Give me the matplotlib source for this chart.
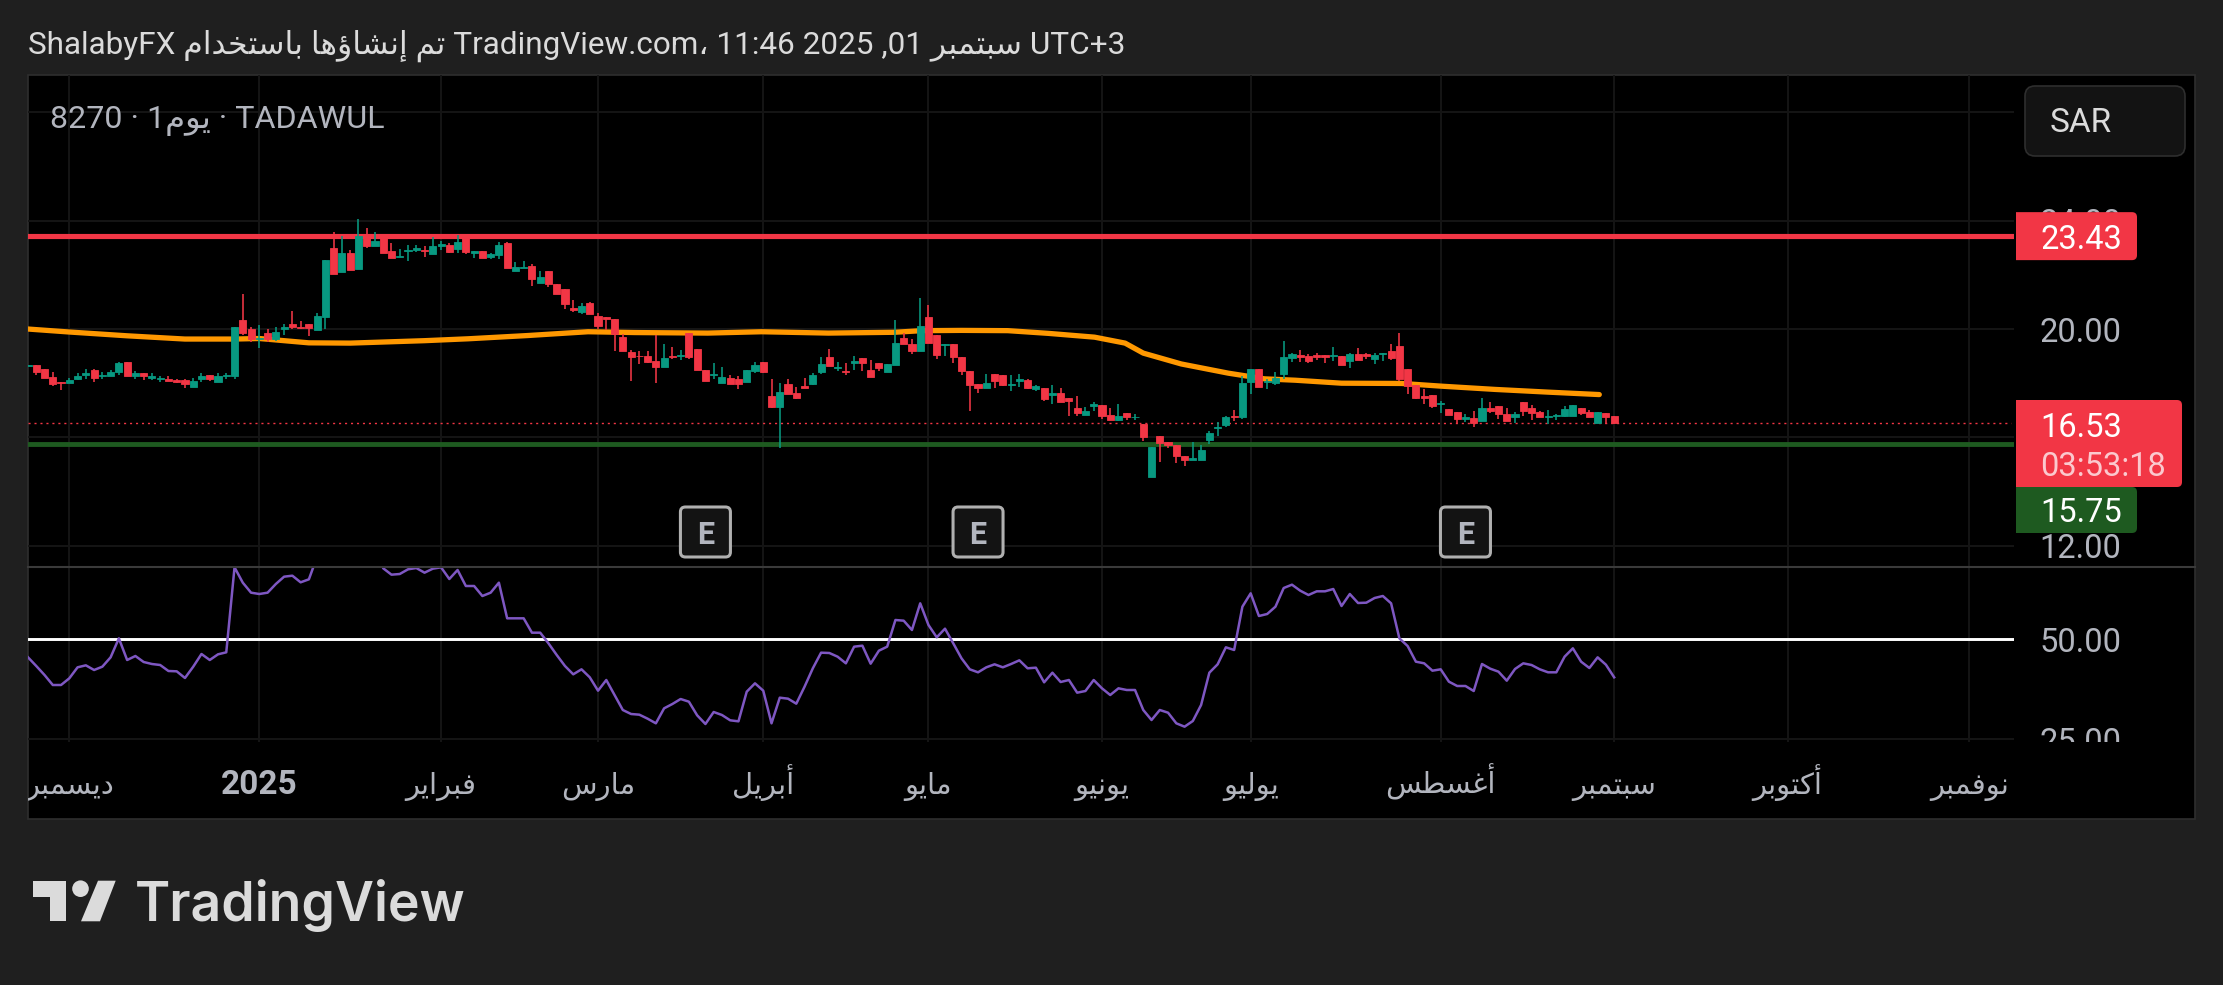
import numpy as np
import matplotlib
matplotlib.use("Agg")
import matplotlib.pyplot as plt
from matplotlib.patches import Rectangle, FancyBboxPatch, Polygon, Circle, PathPatch
from matplotlib.path import Path
from matplotlib.transforms import Affine2D

plt.rcParams['font.family'] = ['Roboto', 'DejaVu Sans']

# ---------- data ----------
opens = [18.64,18.66,18.54,18.22,18.06,18.01,18.17,18.31,18.47,18.25,
18.25,18.43,18.77,18.27,18.36,18.21,18.16,18.15,18.11,18.11,
17.87,18.17,18.29,18.05,18.25,18.27,20.32,19.99,19.64,19.87,
19.65,19.99,20.18,20.08,20.17,19.97,20.45,22.99,22.12,22.81,
22.23,23.47,23.08,23.35,22.87,22.66,22.88,22.92,22.93,22.77,
23.06,23.10,22.94,23.41,22.79,22.88,22.65,22.74,23.17,22.15,
22.25,22.33,21.70,22.14,21.68,21.46,20.79,20.64,20.95,20.47,
20.43,20.37,19.70,19.17,19.02,19.00,18.82,18.61,19.02,18.99,
19.87,19.25,18.48,18.31,18.01,18.19,18.14,18.04,18.45,18.77,
17.52,17.12,17.97,17.63,17.89,17.97,18.41,18.95,18.56,18.46,
18.74,18.94,18.50,18.76,18.40,18.69,19.66,19.45,19.20,20.46,
19.79,19.41,19.45,18.98,18.46,17.97,17.84,18.34,18.30,17.93,
18.09,18.13,17.77,17.84,17.57,17.64,17.45,17.09,16.83,17.17,
17.20,16.83,16.63,16.90,16.74,16.51,14.54,16.06,15.84,15.73,
15.32,15.15,15.15,15.91,16.35,16.45,16.80,16.77,18.04,18.54,
18.04,18.01,18.34,18.94,19.03,18.99,19.03,19.03,18.99,19.01,
18.82,19.08,19.06,18.91,19.06,19.18,19.39,18.54,17.93,17.51,
17.55,17.24,17.04,16.94,16.69,16.70,16.61,17.10,17.15,16.87,
16.77,17.29,17.07,16.92,16.75,16.80,16.79,16.80,17.09,16.92,
16.54,16.91,16.79]
closes = [18.69,18.42,18.20,17.97,17.99,18.11,18.27,18.36,18.20,18.29,
18.43,18.73,18.27,18.36,18.26,18.26,18.21,18.08,18.06,17.97,
18.08,18.27,18.14,18.26,18.29,20.07,19.84,19.62,19.68,19.62,
19.89,20.06,20.06,20.03,20.05,20.48,22.55,22.02,22.81,22.18,
23.45,23.08,23.26,22.82,22.62,22.69,22.92,22.99,22.89,23.06,
23.14,22.83,23.21,22.83,22.88,22.63,22.76,23.09,22.25,22.28,
22.30,21.86,21.92,21.66,21.30,20.92,20.70,20.85,20.56,20.11,
20.37,19.81,19.20,18.96,18.99,18.78,18.61,18.93,18.98,19.05,
18.96,18.50,18.08,18.35,18.22,17.98,17.98,18.48,18.68,18.41,
17.12,17.67,17.61,17.45,17.83,18.30,18.70,18.65,18.61,18.41,
18.81,18.76,18.24,18.57,18.72,19.50,19.43,19.20,20.12,19.47,
19.05,19.45,18.98,18.44,17.94,17.83,18.00,18.07,17.94,17.97,
18.14,17.83,17.88,17.41,17.62,17.29,17.33,16.90,16.97,17.22,
16.80,16.63,16.79,16.74,16.77,16.02,15.65,15.80,15.70,15.30,
15.15,15.22,15.54,16.17,16.39,16.76,16.76,18.00,18.52,17.87,
18.07,18.21,18.96,19.06,18.97,18.81,18.98,18.97,19.04,18.67,
19.08,18.86,18.99,19.03,19.12,18.93,18.15,17.90,17.45,17.46,
17.17,17.28,16.83,16.67,16.74,16.53,17.10,16.96,16.86,16.60,
16.88,16.98,16.91,16.76,16.79,16.83,17.04,17.18,16.90,16.75,
16.92,16.76,16.53]
highs = [18.69,18.66,18.54,18.40,18.06,18.21,18.36,18.51,18.54,18.43,
18.50,18.77,18.77,18.44,18.36,18.36,18.27,18.26,18.15,18.17,
18.20,18.36,18.30,18.36,18.36,20.07,21.29,20.08,20.15,19.99,
20.06,20.17,20.65,20.28,20.17,20.61,22.55,23.57,23.43,22.92,
24.06,23.72,23.57,23.35,23.16,22.94,23.10,23.10,23.08,23.38,
23.26,23.16,23.47,23.47,22.88,22.88,22.79,23.22,23.22,22.46,
22.50,22.39,22.14,22.14,21.68,21.46,21.07,20.95,20.98,20.58,
20.43,20.37,19.80,19.22,19.18,19.18,19.78,19.44,19.32,19.22,
19.87,19.25,18.48,18.73,18.59,18.29,18.26,18.48,18.78,18.77,
18.15,17.99,18.14,17.85,18.19,18.36,18.96,19.26,18.77,18.74,
19.01,18.94,18.87,18.76,18.72,20.34,19.85,19.63,21.15,20.90,
19.79,19.45,19.45,18.98,18.46,17.97,18.34,18.34,18.30,18.31,
18.34,18.15,17.93,17.84,17.93,17.83,17.45,17.52,17.11,17.29,
17.20,17.09,17.24,16.90,16.85,16.51,15.65,16.06,15.84,15.73,
15.32,15.84,15.73,16.23,16.58,16.80,17.01,18.26,18.54,18.54,
18.15,18.42,19.55,19.13,19.24,19.07,19.13,19.03,19.35,19.01,
19.13,19.31,19.10,19.13,19.13,19.46,19.87,18.54,17.93,17.78,
17.55,17.34,17.04,16.94,16.85,16.97,17.47,17.29,17.15,17.09,
16.92,17.29,17.18,16.97,17.01,16.86,17.15,17.18,17.10,17.01,
16.92,16.91,16.80]
lows = [18.64,18.30,18.20,17.90,17.74,18.01,18.11,18.17,18.05,18.17,
18.25,18.30,18.27,18.15,18.11,18.11,18.05,18.08,18.00,17.83,
17.87,18.03,18.09,18.05,18.15,18.15,19.78,19.53,19.31,19.53,
19.55,19.78,20.01,20.01,19.74,19.97,20.00,22.02,22.12,22.18,
22.23,23.00,23.06,22.82,22.62,22.66,22.52,22.83,22.67,22.77,
22.92,22.79,22.82,22.76,22.62,22.63,22.58,22.58,22.25,22.14,
22.25,21.59,21.70,21.56,21.30,20.75,20.64,20.55,20.56,19.99,
19.96,19.20,19.20,18.08,18.70,18.73,18.00,18.61,18.89,18.85,
18.88,18.50,18.08,18.16,18.00,17.98,17.78,18.04,18.38,18.38,
17.09,15.61,17.61,17.41,17.83,17.94,18.33,18.65,18.46,18.31,
18.50,18.46,18.24,18.46,18.40,18.69,19.43,19.06,19.20,19.47,
18.88,19.01,18.76,18.29,16.98,17.65,17.84,17.83,17.89,17.70,
17.87,17.77,17.73,17.35,17.25,17.29,16.80,16.80,16.83,16.98,
16.69,16.63,16.59,16.63,16.63,15.87,14.54,15.10,15.59,15.07,
14.95,15.15,15.15,15.74,16.06,16.37,16.61,16.67,17.60,17.87,
17.78,17.93,18.15,18.79,18.79,18.75,18.85,18.74,18.81,18.67,
18.56,18.86,18.90,18.71,18.82,18.85,18.07,17.61,17.42,17.23,
17.08,16.91,16.82,16.52,16.58,16.39,16.61,16.91,16.69,16.60,
16.54,16.79,16.65,16.76,16.50,16.64,16.76,16.80,16.82,16.74,
16.52,16.50,16.50]

ma_bars = [0,5,12,19,25,28,34,39,48,53.3,60.5,67.8,73.4,82.3,88.8,96.9,104.9,108.2,113,118.6,
           123.5,129.1,132.8,135,139.6,145.3,149.7,153.4,159,166.3,171.1,177.6,184,190.2]
ma_vals = [20.0,19.89,19.75,19.63,19.63,19.65,19.49,19.48,19.57,19.64,19.76,19.90,19.87,19.85,19.90,19.85,19.88,19.94,19.95,19.94,
           19.84,19.70,19.48,19.11,18.71,18.37,18.16,18.11,18.0,17.99,17.89,17.77,17.67,17.58]

rsi = [45.42,43.25,41.0,38.5,38.5,40.17,42.92,43.42,42.25,43.08,
45.42,50.17,44.75,45.75,44.25,43.75,43.5,42.0,41.92,40.25,
43.08,46.25,44.75,46.17,46.67,67.92,64.08,61.58,61.25,61.58,
63.75,65.58,65.83,64.17,64.92,70.6,78,75,74,73,
77,75.5,74,67.67,66.08,66.25,67.42,67.75,66.58,67.58,
67.92,65.0,67.25,63.25,63.25,60.75,61.58,64.08,55.17,55.17,
55.17,51.58,51.58,48.92,46.0,43.25,41.17,42.42,40.42,37.08,
39.75,36.0,32.25,31.25,31.08,30.08,28.92,32.67,33.75,35.0,
34.33,30.92,28.75,31.75,31.0,29.67,29.42,36.83,38.92,37.08,
28.92,35.33,35.08,33.83,38.08,42.67,46.58,46.5,45.58,43.92,
48.08,48.33,43.83,47.08,48.08,54.75,54.58,52.25,58.92,53.5,
50.42,52.58,48.92,45.17,42.42,41.67,42.92,43.67,42.92,43.75,
44.67,42.67,42.83,39.17,41.58,39.25,39.75,36.58,37.0,39.75,
37.67,36.0,37.67,37.25,37.25,32.25,29.75,32.25,31.58,28.92,
28.08,29.5,33.5,41.58,43.67,47.92,47.25,58.08,61.42,55.75,
56.25,58.08,62.75,63.58,62.08,61.0,61.92,61.92,62.5,58.25,
61.25,59.0,59.08,60.25,60.75,58.92,50.17,48.25,44.33,43.92,
42.08,42.42,39.33,38.25,38.25,37.0,43.75,42.58,41.83,39.58,
42.5,43.92,43.5,42.42,41.67,41.67,45.58,47.67,44.33,42.75,
45.42,43.58,40.42]

month_bars = [5,28,50,69,89,109,130,148,171,192,213,235]
month_names = ["ديسمبر","2025","فبراير","مارس","أبريل","مايو","يونيو","يوليو","أغسطس","سبتمبر","أكتوبر","نوفمبر"]
price_ticks = [12,16,20,24,28]
price_tick_labels = ['12.00','','20.00','24.00','']
rsi_ticks = [25,50]
resistance = 23.43
support = 15.75
last_price = 16.53
countdown = "03:53:18"
rsi_mid = 50
earnings_bars = [82,115,174]

# ---------- Arabic shaping (matplotlib has no bidi / joining) ----------
DUAL = {'ب':0xFE8F,'ت':0xFE95,'خ':0xFEA5,'س':0xFEB1,'ش':0xFEB5,'ط':0xFEC1,'غ':0xFECD,'ف':0xFED1,
        'ك':0xFED9,'ل':0xFEDD,'م':0xFEE1,'ن':0xFEE5,'ه':0xFEE9,'ي':0xFEF1}
RIGHT = {'ا':0xFE8D,'أ':0xFE83,'إ':0xFE87,'ؤ':0xFE85,'د':0xFEA9,'ر':0xFEAD,'و':0xFEED}
def ar(s):
    out = []
    for i, c in enumerate(s):
        p = s[i-1] if i else ''
        n = s[i+1] if i+1 < len(s) else ''
        pj = p in DUAL
        nj = n in DUAL or n in RIGHT
        if c in DUAL:
            b = DUAL[c]
            out.append(chr(b + (3 if pj and nj else 1 if pj else 2 if nj else 0)))
        elif c in RIGHT:
            out.append(chr(RIGHT[c] + (1 if pj else 0)))
        else:
            out.append(c)
    return ''.join(reversed(out))

# ---------- colours ----------
BG, PANEL, EDGE, GRID = '#1f1f1f', '#000000', '#2e2e2e', '#151515'
UP, DOWN = '#089981', '#f23645'
TXT, LIGHT = '#b2b5be', '#dbdbdb'
SUP = '#1e5a20'

W, H = 2223, 985
fig = plt.figure(figsize=(W/100, H/100), dpi=100, facecolor=BG)
PX = Affine2D().scale(1, -1).translate(0, H)

def axes_px(x0, y0, x1, y1):
    return fig.add_axes([x0/W, 1-y1/H, (x1-x0)/W, (y1-y0)/H])

fig.add_artist(Rectangle((28, 75), 2167, 744, transform=PX, fc=PANEL, ec=EDGE, lw=1.2, zorder=-2))

ax = axes_px(28, 75, 2014, 566)
ax2 = axes_px(28, 567, 2014, 742)
xlim = (0, 240.4)
for a in (ax, ax2):
    a.set_facecolor('none')
    a.set_xlim(*xlim)
    for s in a.spines.values():
        s.set_visible(False)
    a.set_axisbelow(True)
    a.grid(True, color=GRID, lw=1.4)
    a.yaxis.tick_right()
    a.tick_params(axis='both', length=0, colors=TXT)
    a.set_xticks(month_bars)
ax.set_ylim(11.25, 29.38)
ax2.set_ylim(24.25, 68)
ax.set_xticklabels([])
ax.set_yticks(price_ticks)
ax.set_yticklabels(price_tick_labels, fontsize=23.5, color=TXT)
ax.tick_params(axis='y', pad=18.5)
ax2.set_yticks(rsi_ticks)
ax2.set_yticklabels([f'{v:.2f}' for v in rsi_ticks], fontsize=23.5, color=TXT)
ax2.tick_params(axis='y', pad=18.5)
ax2.tick_params(axis='x', pad=37.4)
ax2.set_xticklabels([ar(n) if not n.isdigit() else n for n in month_names], fontsize=21, color=TXT)
for lab, n in zip(ax2.get_xticklabels(), month_names):
    lab.set_verticalalignment('baseline')
    if n.isdigit():
        lab.set_fontweight('bold')
        lab.set_fontsize(24)
    lab.set_clip_path(Rectangle((28, 742), 2167, 77, transform=PX))
    lab.set_clip_on(True)
for lab in ax2.get_yticklabels():
    lab.set_clip_path(Rectangle((2014, 567), 181, 175, transform=PX))
    lab.set_clip_on(True)

# horizontal levels
ax.axhline(resistance, color=DOWN, lw=3.7, zorder=1.2)
ax.axhline(support, color=SUP, lw=3.5, zorder=1.2)
ax.plot([0, 240], [last_price]*2, color=DOWN, lw=1.0, ls=(0, (1.5, 2.8)), zorder=1.1)

# moving average
ax.plot(ma_bars, ma_vals, color='#ff9800', lw=3.8, solid_capstyle='round', solid_joinstyle='round', zorder=1.5)

# candles
o, h, l, c = map(np.array, (opens, highs, lows, closes))
xs = np.arange(len(o))
cols = [UP if cc >= oo else DOWN for oo, cc in zip(o, c)]
ax.vlines(xs, l, h, colors=cols, lw=1.15, zorder=2)
ax.bar(xs, np.abs(c-o), bottom=np.minimum(o, c), width=0.86, color=cols, edgecolor=cols, lw=0.6, zorder=2.1)

# RSI
ax2.axhline(rsi_mid, color='white', lw=2.1, zorder=1.5)
ax2.plot(np.arange(len(rsi)), rsi, color='#7e57c2', lw=1.8, zorder=2)

# divider
fig.add_artist(plt.Line2D([28, 2195], [566.5, 566.5], transform=PX, color='#3a3a3a', lw=1.5, zorder=5))

def y_px(a, v):
    return PX.inverted().transform(a.transData.transform((0, v)))[1]
def x_px(a, v):
    return PX.inverted().transform(a.transData.transform((v, 0)))[0]

def tag(x0, y0, x1, y1, col, r=5):
    verts = [(x0, y0), (x1-r, y0), (x1, y0), (x1, y0+r), (x1, y1-r), (x1, y1), (x1-r, y1), (x0, y1), (x0, y0)]
    codes = [Path.MOVETO, Path.LINETO, Path.CURVE3, Path.CURVE3, Path.LINETO, Path.CURVE3, Path.CURVE3, Path.LINETO, Path.CLOSEPOLY]
    fig.add_artist(PathPatch(Path(verts, codes), transform=PX, fc=col, ec='none', zorder=6))

def label(x, y, s, col, size=23.5, ha='left', **kw):
    fig.text(x, y, s, transform=PX, color=col, fontsize=size, ha=ha, va='center_baseline', zorder=7, **kw)

yr = y_px(ax, resistance)
tag(2016, yr-24, 2137, yr+24, DOWN)
label(2040, yr, f'{resistance:.2f}', 'white')

tag(2016, 400, 2182, 487, DOWN)
label(2040, y_px(ax, last_price)+1, f'{last_price:.2f}', 'white')
label(2040, 463, countdown, '#fbc9ce')

tag(2016, 487, 2137, 533, SUP)
label(2040, 509.5, f'{support:.2f}', 'white')

# currency box
fig.add_artist(FancyBboxPatch((2035, 96), 140, 50, boxstyle='round,pad=10,rounding_size=10', transform=PX,
                              fc='#131313', ec=EDGE, lw=1.2, zorder=6))
label(2050, 120, 'SAR', LIGHT, size=24)

# earnings markers
for b in earnings_bars:
    xc = x_px(ax, b)
    fig.add_artist(FancyBboxPatch((xc-20, 512), 40, 40, boxstyle='round,pad=5,rounding_size=5', transform=PX,
                                  fc='#131313', ec='#b0b0b0', lw=2.2, zorder=6))
    label(xc, 532, 'E', TXT, size=22, ha='center', fontweight='bold')

# header text
header = ('ShalabyFX ' + ar('تم إنشاؤها باستخدام') + ' TradingView.com' + ar('،') + ' 11:46 2025 ,01 '
          + ar('سبتمبر') + ' UTC+3')
label(28, 42, header, LIGHT, size=22.65)
label(50, 117, '8270 · 1' + ar('يوم') + ' · TADAWUL', TXT, size=23.2)

# logo
LOGO = '#dbdbdb'
fig.add_artist(Polygon([(33.3, 880.7), (66.3, 880.7), (66.3, 921.3), (50, 921.3), (50, 897), (33.3, 897)],
                       closed=True, transform=PX, fc=LOGO, ec='none'))
fig.add_artist(Circle((80.5, 888.7), 8.3, transform=PX, fc=LOGO, ec='none'))
fig.add_artist(Polygon([(98, 880.7), (115.7, 880.7), (100, 921.3), (81, 921.3)],
                       closed=True, transform=PX, fc=LOGO, ec='none'))
fig.text(135, 921.3, 'TradingView', transform=PX, color=LOGO, fontsize=38.6, fontfamily='Inter',
         fontweight='semibold', ha='left', va='baseline')

fig.savefig('out.png', dpi=100, facecolor=BG)
